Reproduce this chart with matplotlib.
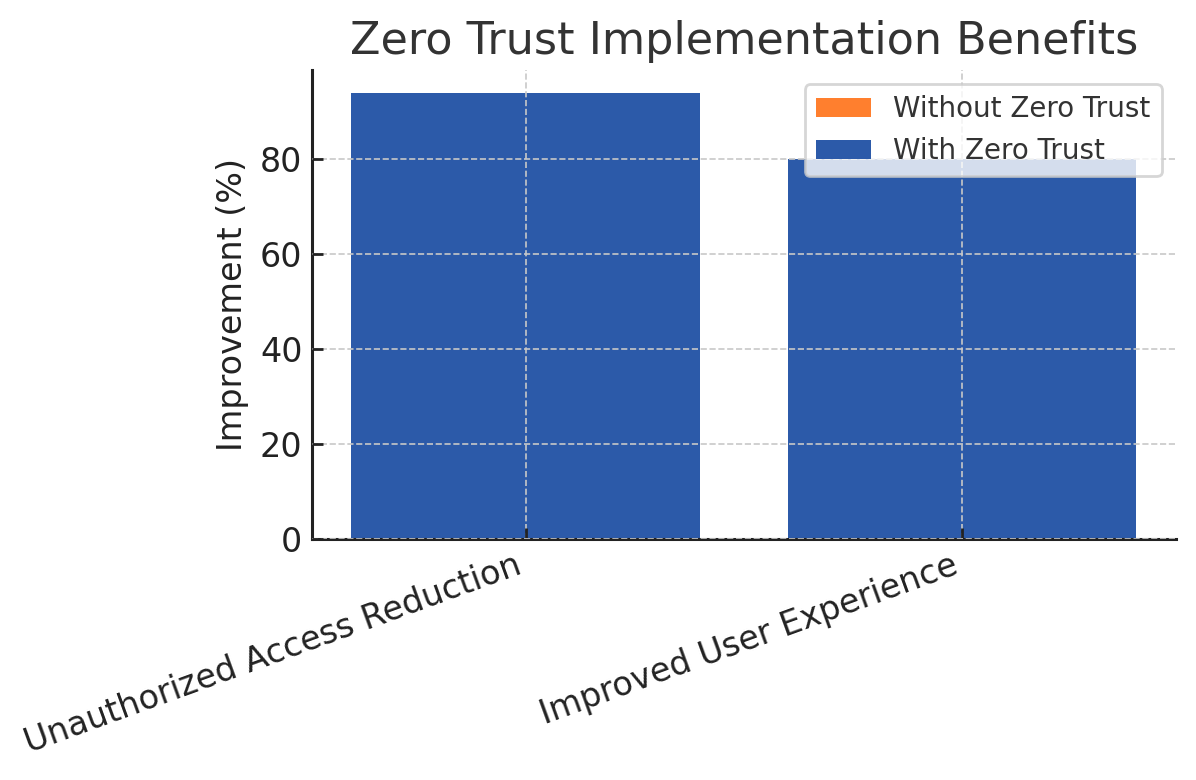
import numpy as np
import matplotlib; matplotlib.use("Agg")
import matplotlib.pyplot as plt

categories = ["Unauthorized Access Reduction", "Improved User Experience"]
without_zt = [0, 0]
with_zt = [94, 80]

ORANGE = "#FF7F2E"; BLUE = "#2C5AA9"
plt.rcParams["font.family"] = "DejaVu Sans"

fig, ax = plt.subplots(figsize=(5.98, 3.9), dpi=200)
x = np.arange(len(categories))
ax.bar(x, without_zt, width=0.8, color=ORANGE, label="Without Zero Trust")
ax.bar(x, with_zt, width=0.8, color=BLUE, label="With Zero Trust")

ax.set_title("Zero Trust Implementation Benefits", fontsize=16, color="#333333")
ax.set_ylabel("Improvement (%)", fontsize=12, color="#222222")
ax.set_xticks(x)
ax.set_xticklabels(categories, rotation=20, ha="right", fontsize=12, color="#222222")
ax.tick_params(axis="y", labelsize=12, labelcolor="#222222")
ax.tick_params(direction="in", length=4, width=1, color="#222222")
ax.set_yticks([0, 20, 40, 60, 80])
ax.grid(True, ls="--", lw=0.6, color="#c8c8c8", zorder=3)
ax.set_axisbelow(False)
for s in ["top", "right"]:
    ax.spines[s].set_visible(False)
for s in ["left", "bottom"]:
    ax.spines[s].set_linewidth(1.1)
    ax.spines[s].set_color("#222222")

leg = ax.legend(loc="upper right", fontsize=10, framealpha=0.8, edgecolor="#cccccc",
                labelcolor="#333333")

fig.subplots_adjust(left=0.261, right=0.983, top=0.91, bottom=0.309)
fig.savefig("out.png", dpi=200)
